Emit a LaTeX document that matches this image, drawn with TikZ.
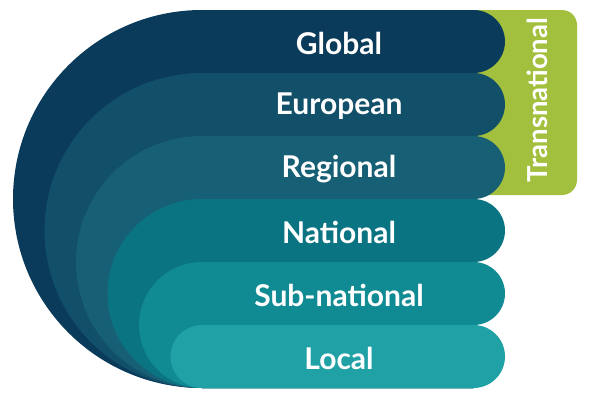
\documentclass[tikz,border=0pt]{standalone}
\usepackage{fontspec}
\setmainfont{Lato}
\usepackage{tikz}
\usetikzlibrary{positioning}
\definecolor{cglobal}{HTML}{0B3B5A}
\definecolor{ceuro}{HTML}{124F69}
\definecolor{cregion}{HTML}{175F74}
\definecolor{cnation}{HTML}{0A7482}
\definecolor{csub}{HTML}{108B93}
\definecolor{clocal}{HTML}{1FA1A5}
\definecolor{ctrans}{HTML}{A2BF3E}
\tikzset{
    layer/.style={
           draw=none,
           },
    lbl/.style={
           text=white,
           font=\fontsize{30}{34}\selectfont\bfseries,
           inner sep=0pt,
           anchor=center,
           },
}
\begin{document}
\begin{tikzpicture}[x=1pt,y=-1pt]
	\useasboundingbox (0,0) rectangle (590,400);
	% transnational tab behind the bands
	\fill[ctrans, rounded corners=15pt] (460,10) rectangle (577,195);
	\node[lbl, rotate=90, font=\fontsize{27.5}{32}\selectfont\bfseries] (trans) at (537,100) {Transnational};

	% nested levels, outermost first
	\fill[layer, cglobal] (202,10) -- (473.5,10) arc[start angle=90,end angle=-90,radius=31.5pt]
		-- (473.5,388) -- (202,388) arc[start angle=270,end angle=90,radius=189pt] -- cycle;
	\fill[layer, ceuro] (202,73) -- (473.5,73) arc[start angle=90,end angle=-90,radius=31.5pt]
		-- (473.5,388) -- (202,388) arc[start angle=270,end angle=90,radius=157.5pt] -- cycle;
	\fill[layer, cregion] (202,136) -- (473.5,136) arc[start angle=90,end angle=-90,radius=31.5pt]
		-- (473.5,388) -- (202,388) arc[start angle=270,end angle=90,radius=126pt] -- cycle;
	\fill[layer, cnation] (202,199) -- (473.5,199) arc[start angle=90,end angle=-90,radius=31.5pt]
		-- (473.5,388) -- (202,388) arc[start angle=270,end angle=90,radius=94.5pt] -- cycle;
	\fill[layer, csub] (202,262) -- (473.5,262) arc[start angle=90,end angle=-90,radius=31.5pt]
		-- (473.5,388) -- (202,388) arc[start angle=270,end angle=90,radius=63pt] -- cycle;
	\fill[layer, clocal] (202,325) -- (473.5,325) arc[start angle=90,end angle=-90,radius=31.5pt]
		-- (202,388) arc[start angle=270,end angle=90,radius=31.5pt] -- cycle;

	\node[lbl] (global) at (339,43) {Global};
	\node[lbl] (euro) at (339,106) {European};
	\node[lbl] (region) at (339,169) {Regional};
	\node[lbl] (nation) at (339,232) {National};
	\node[lbl] (sub) at (339,295) {Sub-national};
	\node[lbl] (local) at (339,358) {Local};
\end{tikzpicture}
\end{document}
